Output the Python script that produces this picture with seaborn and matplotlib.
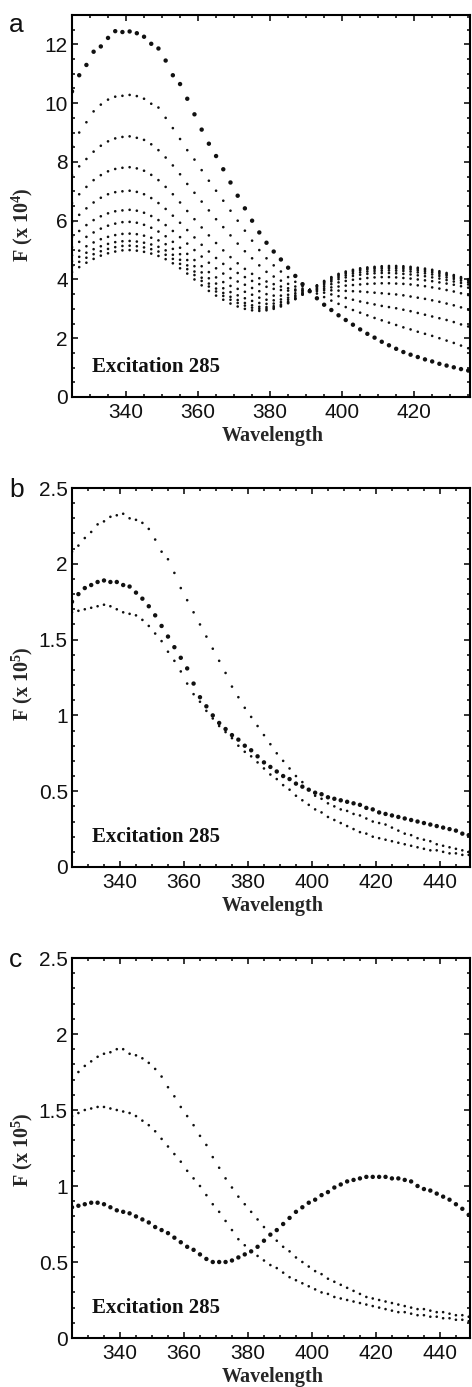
import numpy as np
import pandas as pd
import matplotlib
matplotlib.use("Agg")
import matplotlib.pyplot as plt
from matplotlib.ticker import MultipleLocator, FixedLocator
import seaborn as sns

# ---------------- data ----------------
# panel a: emission spectra (F x 10^4), 2 nm steps 325-435
wl_a = np.arange(325, 436, 2)
a_c1 = [10.40, 10.95, 11.30, 11.75, 11.93, 12.22, 12.45, 12.42, 12.44, 12.38,
        12.26, 12.02, 11.86, 11.45, 10.95, 10.65, 10.15, 9.62, 9.10, 8.62,
        8.20, 7.75, 7.30, 6.85, 6.42, 6.00, 5.60, 5.25, 4.95, 4.68,
        4.40, 4.12, 3.84, 3.60, 3.36, 3.14, 2.96, 2.78, 2.62, 2.46,
        2.30, 2.15, 2.02, 1.88, 1.76, 1.64, 1.53, 1.44, 1.36, 1.28,
        1.21, 1.13, 1.07, 1.01, 0.95, 0.90]
a_c2 = [8.55, 9.00, 9.35, 9.72, 9.95, 10.12, 10.22, 10.25, 10.28, 10.24,
        10.15, 9.98, 9.85, 9.50, 9.15, 8.78, 8.40, 8.08, 7.72, 7.36,
        7.02, 6.68, 6.34, 6.00, 5.66, 5.32, 5.00, 4.72, 4.48, 4.27,
        4.08, 3.92, 3.77, 3.64, 3.52, 3.40, 3.28, 3.17, 3.06, 2.96,
        2.87, 2.78, 2.69, 2.61, 2.53, 2.45, 2.37, 2.30, 2.22, 2.15,
        2.08, 2.00, 1.92, 1.84, 1.75, 1.66]
a_c3 = [7.55, 7.85, 8.10, 8.35, 8.55, 8.70, 8.80, 8.85, 8.87, 8.82,
        8.75, 8.60, 8.40, 8.15, 7.88, 7.58, 7.25, 6.95, 6.65, 6.35,
        6.05, 5.78, 5.50, 5.22, 4.96, 4.72, 4.48, 4.26, 4.10, 3.96,
        3.85, 3.76, 3.69, 3.64, 3.60, 3.55, 3.49, 3.43, 3.37, 3.31,
        3.25, 3.20, 3.15, 3.10, 3.06, 3.02, 2.97, 2.92, 2.86, 2.80,
        2.74, 2.68, 2.62, 2.55, 2.47, 2.40]
a_c4 = [6.60, 6.90, 7.15, 7.38, 7.55, 7.68, 7.76, 7.80, 7.82, 7.78,
        7.70, 7.56, 7.38, 7.15, 6.90, 6.62, 6.33, 6.05, 5.77, 5.50,
        5.24, 4.99, 4.76, 4.55, 4.36, 4.19, 4.04, 3.93, 3.84, 3.76,
        3.70, 3.66, 3.64, 3.64, 3.64, 3.64, 3.63, 3.62, 3.61, 3.60,
        3.59, 3.57, 3.55, 3.53, 3.51, 3.49, 3.46, 3.42, 3.38, 3.34,
        3.29, 3.24, 3.18, 3.12, 3.05, 2.97]
a_c5 = [5.95, 6.20, 6.42, 6.62, 6.78, 6.90, 6.97, 7.00, 7.02, 6.98,
        6.90, 6.77, 6.60, 6.40, 6.17, 5.93, 5.68, 5.43, 5.18, 4.95,
        4.73, 4.53, 4.36, 4.22, 4.08, 3.95, 3.84, 3.75, 3.68, 3.64,
        3.62, 3.62, 3.63, 3.64, 3.67, 3.70, 3.73, 3.76, 3.79, 3.81,
        3.83, 3.85, 3.86, 3.87, 3.87, 3.86, 3.85, 3.83, 3.80, 3.77,
        3.73, 3.69, 3.64, 3.59, 3.53, 3.47]
a_c6 = [5.45, 5.65, 5.85, 6.02, 6.15, 6.25, 6.32, 6.35, 6.37, 6.34,
        6.27, 6.16, 6.02, 5.85, 5.65, 5.44, 5.22, 5.00, 4.78, 4.57,
        4.38, 4.20, 4.05, 3.93, 3.82, 3.71, 3.60, 3.50, 3.45, 3.45,
        3.48, 3.53, 3.59, 3.64, 3.70, 3.77, 3.84, 3.90, 3.95, 3.99,
        4.02, 4.05, 4.07, 4.08, 4.08, 4.07, 4.05, 4.03, 4.00, 3.97,
        3.94, 3.90, 3.86, 3.82, 3.77, 3.72]
a_c7 = [5.10, 5.28, 5.45, 5.60, 5.73, 5.83, 5.90, 5.95, 5.96, 5.93,
        5.86, 5.76, 5.63, 5.47, 5.28, 5.08, 4.87, 4.66, 4.45, 4.25,
        4.07, 3.91, 3.78, 3.68, 3.58, 3.48, 3.38, 3.31, 3.29, 3.32,
        3.38, 3.46, 3.55, 3.64, 3.74, 3.84, 3.93, 4.01, 4.07, 4.12,
        4.16, 4.19, 4.21, 4.22, 4.22, 4.21, 4.19, 4.17, 4.14, 4.11,
        4.07, 4.03, 3.98, 3.93, 3.88, 3.83]
a_c8 = [4.82, 4.98, 5.13, 5.26, 5.37, 5.45, 5.51, 5.55, 5.56, 5.54,
        5.49, 5.42, 5.33, 5.20, 5.04, 4.86, 4.66, 4.45, 4.24, 4.04,
        3.86, 3.70, 3.57, 3.46, 3.36, 3.27, 3.20, 3.17, 3.18, 3.23,
        3.31, 3.41, 3.52, 3.64, 3.76, 3.88, 3.98, 4.07, 4.14, 4.20,
        4.24, 4.27, 4.29, 4.30, 4.31, 4.30, 4.29, 4.27, 4.24, 4.21,
        4.17, 4.12, 4.07, 4.02, 3.96, 3.90]
a_c9 = [4.62, 4.77, 4.91, 5.03, 5.13, 5.21, 5.27, 5.30, 5.31, 5.29,
        5.25, 5.19, 5.11, 4.99, 4.84, 4.67, 4.48, 4.27, 4.06, 3.86,
        3.69, 3.54, 3.41, 3.30, 3.20, 3.12, 3.07, 3.06, 3.09, 3.15,
        3.24, 3.36, 3.50, 3.64, 3.78, 3.91, 4.02, 4.12, 4.20, 4.26,
        4.31, 4.34, 4.36, 4.37, 4.38, 4.37, 4.36, 4.34, 4.31, 4.28,
        4.24, 4.19, 4.14, 4.08, 4.02, 3.96]
a_c10 = [4.45, 4.60, 4.74, 4.86, 4.96, 5.04, 5.10, 5.14, 5.15, 5.13,
         5.09, 5.03, 4.95, 4.84, 4.70, 4.53, 4.35, 4.15, 3.95, 3.76,
         3.59, 3.44, 3.31, 3.20, 3.11, 3.04, 3.00, 3.00, 3.04, 3.11,
         3.21, 3.34, 3.49, 3.64, 3.79, 3.93, 4.06, 4.16, 4.24, 4.30,
         4.35, 4.38, 4.40, 4.42, 4.42, 4.42, 4.41, 4.39, 4.36, 4.33,
         4.29, 4.24, 4.18, 4.12, 4.05, 3.99]
a_c11 = [4.25, 4.42, 4.57, 4.70, 4.81, 4.89, 4.95, 4.99, 5.00, 4.98,
         4.94, 4.88, 4.80, 4.69, 4.55, 4.38, 4.20, 4.00, 3.80, 3.61,
         3.45, 3.31, 3.18, 3.08, 3.00, 2.95, 2.93, 2.95, 3.00, 3.08,
         3.19, 3.33, 3.48, 3.64, 3.80, 3.95, 4.08, 4.19, 4.27, 4.33,
         4.38, 4.41, 4.43, 4.45, 4.46, 4.46, 4.45, 4.43, 4.40, 4.37,
         4.33, 4.28, 4.22, 4.15, 4.08, 4.01]

# panels b and c: F x 10^5, 2 nm steps 325-449
wl_bc = np.arange(325, 450, 2)
b_top = [2.08, 2.12, 2.17, 2.21, 2.26, 2.28, 2.31, 2.32, 2.33, 2.30,
         2.29, 2.27, 2.23, 2.16, 2.08, 2.03, 1.94, 1.84, 1.76, 1.68,
         1.60, 1.52, 1.44, 1.36, 1.28, 1.19, 1.12, 1.05, 0.99, 0.93,
         0.87, 0.81, 0.75, 0.70, 0.65, 0.60, 0.56, 0.51, 0.47, 0.45,
         0.42, 0.40, 0.38, 0.37, 0.35, 0.34, 0.32, 0.30, 0.29, 0.28,
         0.26, 0.24, 0.22, 0.21, 0.19, 0.18, 0.17, 0.15, 0.14, 0.13,
         0.12, 0.11, 0.10]
b_thick = [1.75, 1.80, 1.84, 1.86, 1.88, 1.89, 1.88, 1.88, 1.86, 1.85,
           1.81, 1.77, 1.72, 1.66, 1.59, 1.52, 1.45, 1.38, 1.31, 1.21,
           1.12, 1.06, 1.00, 0.95, 0.91, 0.87, 0.84, 0.80, 0.77, 0.73,
           0.69, 0.66, 0.63, 0.60, 0.58, 0.55, 0.53, 0.51, 0.49, 0.48,
           0.46, 0.45, 0.44, 0.43, 0.42, 0.41, 0.39, 0.38, 0.36, 0.35,
           0.34, 0.33, 0.32, 0.31, 0.30, 0.29, 0.28, 0.27, 0.26, 0.25,
           0.24, 0.22, 0.21]
b_low = [1.68, 1.69, 1.70, 1.71, 1.72, 1.73, 1.72, 1.70, 1.68, 1.67,
         1.66, 1.63, 1.59, 1.54, 1.49, 1.42, 1.36, 1.29, 1.21, 1.14,
         1.09, 1.03, 0.98, 0.93, 0.89, 0.85, 0.80, 0.76, 0.73, 0.69,
         0.65, 0.61, 0.58, 0.54, 0.51, 0.47, 0.44, 0.41, 0.38, 0.36,
         0.33, 0.31, 0.29, 0.27, 0.25, 0.23, 0.22, 0.20, 0.19, 0.18,
         0.17, 0.16, 0.15, 0.14, 0.13, 0.12, 0.11, 0.11, 0.10, 0.09,
         0.09, 0.08, 0.08]
c_top = [1.70, 1.75, 1.79, 1.82, 1.85, 1.87, 1.88, 1.90, 1.90, 1.87,
         1.86, 1.84, 1.81, 1.77, 1.72, 1.65, 1.59, 1.52, 1.46, 1.40,
         1.33, 1.27, 1.19, 1.12, 1.05, 0.99, 0.93, 0.88, 0.83, 0.78,
         0.73, 0.68, 0.64, 0.60, 0.57, 0.53, 0.50, 0.47, 0.44, 0.42,
         0.39, 0.37, 0.35, 0.33, 0.31, 0.29, 0.27, 0.26, 0.25, 0.24,
         0.23, 0.22, 0.21, 0.20, 0.19, 0.19, 0.18, 0.17, 0.17, 0.16,
         0.15, 0.15, 0.14]
c_mid = [1.46, 1.48, 1.50, 1.51, 1.52, 1.52, 1.51, 1.50, 1.49, 1.48,
         1.46, 1.43, 1.40, 1.36, 1.31, 1.26, 1.21, 1.16, 1.10, 1.05,
         1.00, 0.94, 0.88, 0.83, 0.77, 0.71, 0.65, 0.61, 0.57, 0.54,
         0.51, 0.48, 0.46, 0.43, 0.40, 0.38, 0.36, 0.34, 0.32, 0.30,
         0.29, 0.27, 0.26, 0.25, 0.24, 0.23, 0.22, 0.21, 0.20, 0.19,
         0.18, 0.17, 0.17, 0.16, 0.15, 0.15, 0.14, 0.14, 0.13, 0.13,
         0.12, 0.12, 0.11]
c_thick = [0.86, 0.87, 0.88, 0.89, 0.89, 0.88, 0.86, 0.84, 0.83, 0.82,
           0.80, 0.78, 0.76, 0.73, 0.71, 0.69, 0.66, 0.63, 0.60, 0.58,
           0.55, 0.52, 0.50, 0.50, 0.50, 0.51, 0.53, 0.55, 0.57, 0.60,
           0.64, 0.68, 0.71, 0.75, 0.79, 0.83, 0.86, 0.89, 0.91, 0.94,
           0.96, 0.99, 1.01, 1.03, 1.04, 1.05, 1.06, 1.06, 1.06, 1.06,
           1.05, 1.05, 1.04, 1.03, 1.00, 0.98, 0.97, 0.95, 0.93, 0.91,
           0.88, 0.85, 0.81]

xticks_a = [340, 360, 380, 400, 420]
xticks_bc = [340, 360, 380, 400, 420, 440]
yticks_a = [0, 2, 4, 6, 8, 10, 12]
yticks_bc = [0, 0.5, 1, 1.5, 2, 2.5]
ylabels_bc = ["0", "0.5", "1", "1.5", "2", "2.5"]

# ---------------- style ----------------
sns.set_style("ticks")
plt.rcParams['font.family'] = ['Liberation Sans', 'DejaVu Sans']
plt.rcParams['mathtext.fontset'] = 'custom'
plt.rcParams['mathtext.rm'] = 'Liberation Serif:bold'
plt.rcParams['mathtext.default'] = 'rm'
serif_bold = dict(family='Liberation Serif', weight='bold')

W, H = 472, 1387
fig = plt.figure(figsize=(W / 100, H / 100), dpi=100)


def px_axes(top, bottom, left=72, right=470):
    return fig.add_axes([left / W, 1 - bottom / H, (right - left) / W, (bottom - top) / H])


def style(ax, xlim, ylim, xt, yt, ytl, ymin, ylab):
    ax.set_xlim(*xlim)
    ax.set_ylim(*ylim)
    ax.xaxis.set_major_locator(FixedLocator(xt))
    ax.xaxis.set_minor_locator(MultipleLocator(5))
    ax.yaxis.set_major_locator(FixedLocator(yt))
    ax.yaxis.set_minor_locator(MultipleLocator(ymin))
    ax.set_xticklabels([str(v) for v in xt])
    ax.set_yticklabels(ytl)
    ax.tick_params(which='both', direction='in', top=True, right=True,
                   width=1.1, color='black', labelsize=15, labelcolor='#111111')
    ax.tick_params(which='major', length=4.5, pad=3)
    ax.tick_params(which='minor', length=2.5)
    ax.tick_params(axis='x', which='major', pad=4)
    for s in ax.spines.values():
        s.set_linewidth(1.5)
        s.set_color('black')
    ax.set_xlabel("Wavelength", fontsize=14.5, **serif_bold)
    ax.set_ylabel(ylab, fontsize=14.5, **serif_bold)
    ax.xaxis.set_label_coords(0.505, -0.076)
    ax.text(0.05, 0.065, "Excitation 285", transform=ax.transAxes,
            fontsize=15, va='baseline', ha='left', color='#111111', **serif_bold)


def dots(ax, x, y, s):
    sns.scatterplot(x=x, y=y, ax=ax, s=s, color='#111111', marker='o',
                    linewidth=0, edgecolor='none', legend=False)


# ---------------- panel a ----------------
ax_a = px_axes(15, 397)
for curve in [a_c2, a_c3, a_c4, a_c5, a_c6, a_c7, a_c8, a_c9, a_c10, a_c11]:
    dots(ax_a, wl_a, curve, 3.5)
dots(ax_a, wl_a, a_c1, 10)
style(ax_a, (325, 435.5), (0, 13), xticks_a, yticks_a,
      [str(v) for v in yticks_a], 0.5, r"F (x 10$^{4}$)")
ax_a.yaxis.set_label_coords(-0.092, 0.45)

# ---------------- panel b ----------------
ax_b = px_axes(488, 867)
dots(ax_b, wl_bc, b_top, 3.5)
dots(ax_b, wl_bc, b_low, 3.5)
dots(ax_b, wl_bc, b_thick, 10)
style(ax_b, (325, 449.4), (0, 2.5), xticks_bc, yticks_bc, ylabels_bc, 0.1,
      r"F (x 10$^{5}$)")
ax_b.yaxis.set_label_coords(-0.092, 0.485)

# ---------------- panel c ----------------
ax_c = px_axes(958, 1338)
dots(ax_c, wl_bc, c_top, 3.5)
dots(ax_c, wl_bc, c_mid, 3.5)
dots(ax_c, wl_bc, c_thick, 10)
style(ax_c, (325, 449.4), (0, 2.5), xticks_bc, yticks_bc, ylabels_bc, 0.1,
      r"F (x 10$^{5}$)")
ax_c.yaxis.set_label_coords(-0.092, 0.495)

# panel letters
for letter, base in [("a", 32), ("b", 497), ("c", 967)]:
    fig.text(9 / W, 1 - base / H, letter, fontsize=19, va='baseline', ha='left',
             color='#111111')

fig.savefig("out.png", dpi=100)
